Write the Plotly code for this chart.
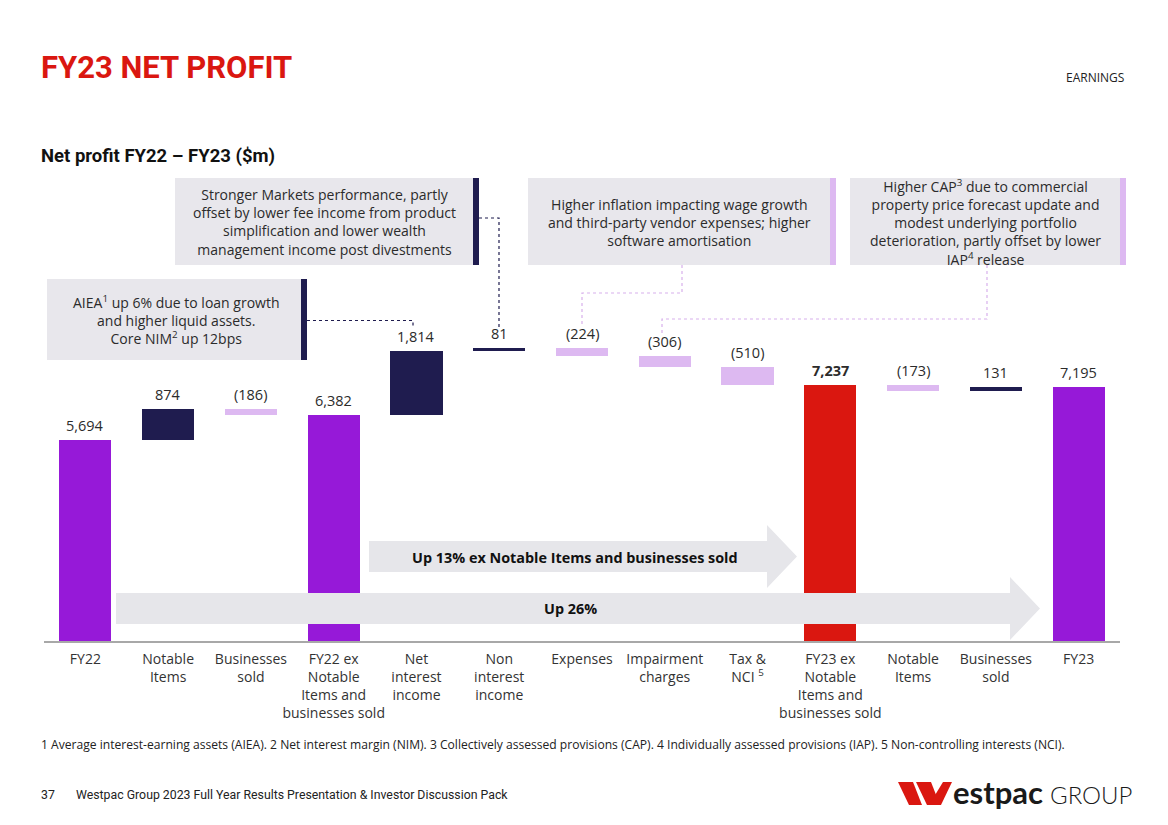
import plotly.graph_objects as go

# ---------------- data ----------------
categories = ["FY22", "Notable<br>Items", "Businesses<br>sold",
              "FY22 ex<br>Notable<br>Items and<br>businesses sold",
              "Net<br>interest<br>income", "Non<br>interest<br>income",
              "Expenses", "Impairment<br>charges", "Tax &amp;<br>NCI <sup>5</sup>",
              "FY23 ex<br>Notable<br>Items and<br>businesses sold",
              "Notable<br>Items", "Businesses<br>sold", "FY23"]
values = [5694, 874, -186, 6382, 1814, 81, -224, -306, -510, 7237, -173, 131, 7195]
measures = ["total", "relative", "relative", "total", "relative", "relative",
            "relative", "relative", "relative", "total", "relative", "relative", "total"]
highlight_total = [False, False, False, False, False, False, False, False, False, True, False, False, False]

box_texts = [
    ["AIEA<sup>1</sup> up 6% due to loan growth", "and higher liquid assets.", "Core NIM<sup>2</sup> up 12bps"],
    ["Stronger Markets performance, partly", "offset by lower fee income from product",
     "simplification and lower wealth", "management income post divestments"],
    ["Higher inflation impacting wage growth", "and third-party vendor expenses; higher",
     "software amortisation"],
    ["Higher CAP<sup>3</sup> due to commercial", "property price forecast update and",
     "modest underlying portfolio", "deterioration, partly offset by lower", "IAP<sup>4</sup> release"],
]
arrow_texts = ["Up 13% ex Notable Items and businesses sold", "Up 26%"]
footnote = ("1 Average interest-earning assets (AIEA). 2 Net interest margin (NIM). "
            "3 Collectively assessed provisions (CAP). 4 Individually assessed provisions (IAP). "
            "5 Non-controlling interests (NCI).")

# ---------------- colours ----------------
PURPLE = "#9619D8"
RED = "#DA1710"
NAVY = "#1F1C4F"
LILAC = "#DDB9F1"
BOXGRAY = "#E8E7EC"
ARROWGRAY = "#E6E6EA"
TXT = "#2B2B2B"
FONT = "Open Sans, Lato, sans-serif"
COND = "Roboto, sans-serif"

# ---------------- waterfall geometry from data ----------------
bases, heights, colors, labels, tops = [], [], [], [], []
cum = 0
for v, m, hl in zip(values, measures, highlight_total):
    if m == "total":
        b, h = 0, v
        cum = v
        c = RED if hl else PURPLE
        lab = f"<b>{v:,}</b>" if hl else f"{v:,}"
    else:
        if v >= 0:
            b, h, c = cum, v, NAVY
            lab = f"{v:,}"
        else:
            b, h, c = cum + v, -v, LILAC
            lab = f"({-v:,})"
        cum += v
    bases.append(b)
    heights.append(h)
    colors.append(c)
    labels.append(lab)
    tops.append(b + h)

W, H = 1168, 825
ML, MR, MT, MB = 44, 48, 100, 184
PW, PH = W - ML - MR, H - MT - MB
YMAX = PH / 0.03535


def px(x):
    return (x - ML) / PW


def py(y):
    return (H - MB - y) / PH


fig = go.Figure()
fig.add_trace(go.Bar(
    x=list(range(len(values))), y=heights, base=bases,
    marker=dict(color=colors, line=dict(width=0)),
    width=0.63, hoverinfo="skip", showlegend=False,
))

annotations = []
shapes = []

# value labels
for i, (lab, t) in enumerate(zip(labels, tops)):
    annotations.append(dict(x=i, y=t, xref="x", yref="y", text=lab, showarrow=False,
                            yanchor="bottom", yshift=3,
                            font=dict(family=FONT, size=14.5, color=TXT)))

# explanation boxes: (x0, y0, x1, y1, bar colour, text x centre, text y centre)
boxes = [
    (47, 279, 301, 360, NAVY, 176, 320),
    (175, 178, 473, 265, NAVY, 324, 222),
    (528, 178, 830, 265, LILAC, 679, 222),
    (850, 178, 1120, 265, LILAC, 985, 222),
]
for (x0, y0, x1, y1, bc, tx, ty), lines in zip(boxes, box_texts):
    shapes.append(dict(type="rect", xref="paper", yref="paper", x0=px(x0), x1=px(x1),
                       y0=py(y1), y1=py(y0), fillcolor=BOXGRAY, line=dict(width=0), layer="below"))
    shapes.append(dict(type="rect", xref="paper", yref="paper", x0=px(x1), x1=px(x1 + 6),
                       y0=py(y1), y1=py(y0), fillcolor=bc, line=dict(width=0), layer="below"))
    annotations.append(dict(x=px(tx), y=py(ty), xref="paper", yref="paper", text="<br>".join(lines),
                            showarrow=False, xanchor="center", yanchor="middle", align="center",
                            borderpad=0, font=dict(family=FONT, size=14, color=TXT)))

# connectors
connectors = [
    ([(307, 320.5), (413, 320.5), (413, 328)], NAVY),
    ([(479, 218), (499, 218), (499, 329)], NAVY),
    ([(682, 265), (682, 293), (582, 293), (582, 327)], "#D7B0EC"),
    ([(987, 265), (987, 319), (662, 319), (662, 336)], "#D7B0EC"),
]
for pts, lc in connectors:
    path = "M " + " L ".join(f"{px(a):.5f},{py(b):.5f}" for a, b in pts)
    shapes.append(dict(type="path", xref="paper", yref="paper", path=path,
                       line=dict(color=lc, width=1.2, dash="dot")))

# arrows
arrows = [
    (369, 767, 797, 541, 572, 525, 588, 575, 557),
    (116, 1010, 1040, 593, 624, 577, 640, 570, 608),
]
for (x0, xh, xt, yb0, yb1, yh0, yh1, tx, ty), txt in zip(arrows, arrow_texts):
    ym = (yb0 + yb1) / 2
    pts = [(x0, yb0), (xh, yb0), (xh, yh0), (xt, ym), (xh, yh1), (xh, yb1), (x0, yb1)]
    path = "M " + " L ".join(f"{px(a):.5f},{py(b):.5f}" for a, b in pts) + " Z"
    shapes.append(dict(type="path", xref="paper", yref="paper", path=path,
                       fillcolor=ARROWGRAY, line=dict(width=0), layer="above"))
    annotations.append(dict(x=px(tx), y=py(ty), xref="paper", yref="paper", text=f"<b>{txt}</b>",
                            showarrow=False, xanchor="center", yanchor="middle",
                            font=dict(family=FONT, size=14.4, color="#111111")))

# titles and page text
annotations += [
    dict(x=px(39), y=py(68), xref="paper", yref="paper", text="<b>FY23 NET PROFIT</b>",
         showarrow=False, xanchor="left", yanchor="middle",
         font=dict(family=COND, size=31, color=RED, weight=900)),
    dict(x=px(39), y=py(156), xref="paper", yref="paper", text="<b>Net profit FY22 – FY23 ($m)</b>",
         showarrow=False, xanchor="left", yanchor="middle",
         font=dict(family=COND, size=18.5, color="#111111", weight=900)),
    dict(x=px(1126), y=py(78), xref="paper", yref="paper", text="EARNINGS",
         showarrow=False, xanchor="right", yanchor="middle",
         font=dict(family=FONT, size=12, color="#222222")),
    dict(x=px(39), y=py(744), xref="paper", yref="paper", text=footnote,
         showarrow=False, xanchor="left", yanchor="middle",
         font=dict(family=FONT, size=12.1, color="#222222")),
    dict(x=px(39), y=py(795), xref="paper", yref="paper", text="37",
         showarrow=False, xanchor="left", yanchor="middle",
         font=dict(family="Roboto, sans-serif", size=12.3, color="#222222")),
    dict(x=px(74), y=py(795), xref="paper", yref="paper",
         text="Westpac Group 2023 Full Year Results Presentation &amp; Investor Discussion Pack",
         showarrow=False, xanchor="left", yanchor="middle",
         font=dict(family="Roboto, sans-serif", size=12.3, color="#222222")),
    dict(x=px(951), y=py(792), xref="paper", yref="paper", text="<b>estpac</b>",
         showarrow=False, xanchor="left", yanchor="middle",
         font=dict(family="Lato, sans-serif", size=31, color="#1A1A1A")),
    dict(x=px(1048), y=py(794), xref="paper", yref="paper", text="GROUP",
         showarrow=False, xanchor="left", yanchor="middle",
         font=dict(family="Lato, sans-serif", size=24, color="#1A1A1A", weight=300)),
]

# Westpac "W" mark
w_polys = [
    [(898, 782), (913, 782), (922, 805), (909, 805)],
    [(916, 782), (931, 782), (940, 805), (927, 805)],
    [(929, 805), (941, 805), (952, 782), (943, 782)],
]
for pts in w_polys:
    path = "M " + " L ".join(f"{px(a):.5f},{py(b):.5f}" for a, b in pts) + " Z"
    shapes.append(dict(type="path", xref="paper", yref="paper", path=path,
                       fillcolor=RED, line=dict(width=0)))

fig.update_layout(
    width=W, height=H,
    margin=dict(l=ML, r=MR, t=MT, b=MB, pad=0),
    paper_bgcolor="white", plot_bgcolor="white",
    bargap=0,
    xaxis=dict(range=[-0.5, len(values) - 0.5], tickvals=list(range(len(values))),
               ticktext=categories, tickangle=0, showgrid=False, zeroline=False,
               showline=True, linecolor="#A8A8A8", linewidth=2, ticks="",
               ticklabelstandoff=4,
               tickfont=dict(family=FONT, size=14, color="#333333"), fixedrange=True),
    yaxis=dict(range=[0, YMAX], visible=False, fixedrange=True),
    annotations=annotations,
    shapes=shapes,
    showlegend=False,
)

fig.write_html("out.html", config={"displayModeBar": False},
               post_script="document.body.style.margin='0px';")
